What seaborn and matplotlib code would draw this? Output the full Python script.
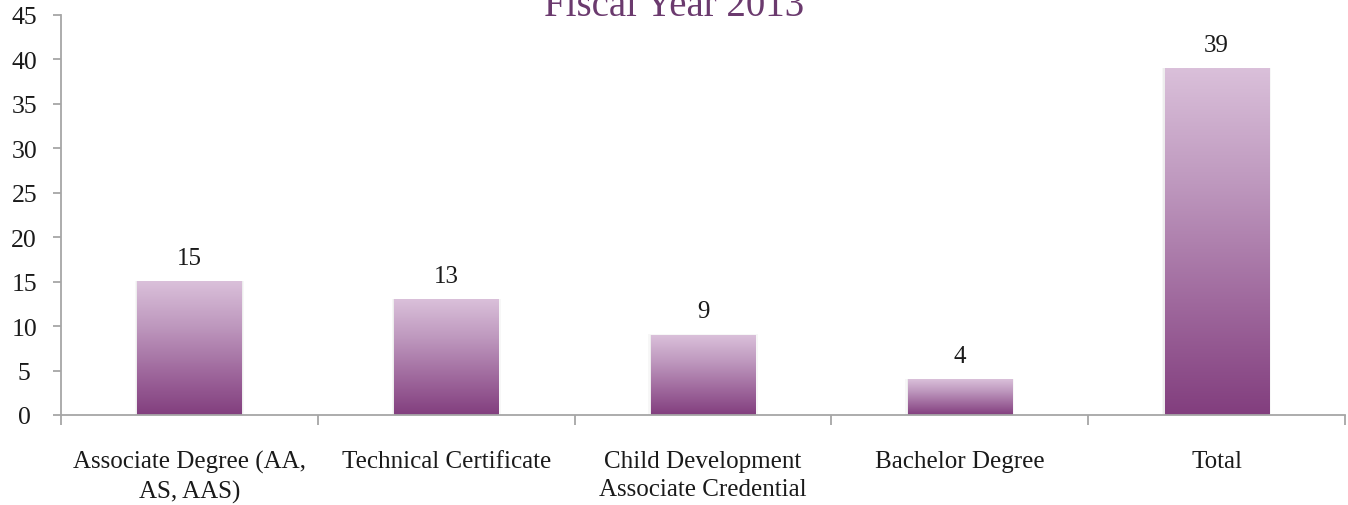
import numpy as np
import pandas as pd
import matplotlib
matplotlib.use("Agg")
import matplotlib.pyplot as plt
import seaborn as sns
from matplotlib.colors import LinearSegmentedColormap
from matplotlib.ticker import FixedLocator

categories = ["Associate Degree (AA,\nAS, AAS)", "Technical Certificate",
              "Child Development\nAssociate Credential", "Bachelor Degree", "Total"]
values = [15, 13, 9, 4, 39]
yticks = [0, 5, 10, 15, 20, 25, 30, 35, 40, 45]
title = "Fiscal Year 2013"

sns.set_theme(style="white")
plt.rcParams["font.family"] = ["Liberation Serif", "DejaVu Serif"]

fig = plt.figure(figsize=(13.48, 5.06), dpi=100)
ax = fig.add_axes([61/1348, 90/506, (1345-61)/1348, 400/506])

df = pd.DataFrame({"cat": categories, "val": values})
sns.barplot(data=df, x="cat", y="val", ax=ax, width=0.405, color="#A070A0",
            edgecolor="none", linewidth=0)

cmap = LinearSegmentedColormap.from_list("grad", ["#823E7E", "#A06A9E", "#BE98BE", "#DAC0DA"])
grad = np.linspace(0, 1, 256).reshape(-1, 1)
for p in list(ax.patches):
    x0, y0 = p.get_x(), p.get_y()
    w, h = p.get_width(), p.get_height()
    p.set_facecolor("none")
    for k, a in [(0.010, 0.06), (0.005, 0.08)]:
        sh = plt.Rectangle((x0 - k, y0), w + 2 * k, h + k * 8, color="#7a7a7a",
                           alpha=a, linewidth=0, zorder=1)
        ax.add_patch(sh)
    ax.imshow(grad, cmap=cmap, extent=[x0, x0 + w, y0, y0 + h], origin="lower",
              aspect="auto", zorder=2, interpolation="bilinear")

for i, v in enumerate(values):
    ax.annotate(str(v), (i, v), xytext=(0, 9), textcoords="offset points",
                ha="center", va="bottom", fontsize=18, color="#1a1a1a")

ax.set_xlim(-0.5, 4.5)
ax.set_ylim(0, 45)
ax.set_yticks(yticks)
ax.set_yticklabels([str(t) for t in yticks])
ax.set_xlabel("")
ax.set_ylabel("")

for s in ["top", "right"]:
    ax.spines[s].set_visible(False)
for s in ["left", "bottom"]:
    ax.spines[s].set_color("#a6a6a6")
    ax.spines[s].set_linewidth(1.3)

ax.tick_params(axis="y", which="major", direction="out", length=6, width=1.3,
               color="#a6a6a6", left=True, labelsize=18.5, labelcolor="#1a1a1a", pad=20.5)
for lab in ax.get_yticklabels():
    lab.set_horizontalalignment("center")
ax.tick_params(axis="x", which="major", length=0, labelsize=18,
               labelcolor="#1a1a1a", pad=25)
ax.xaxis.set_minor_locator(FixedLocator(np.arange(-0.5, 5.0, 1.0)))
ax.tick_params(axis="x", which="minor", direction="out", length=7, width=1.3,
               color="#a6a6a6", bottom=True)
for lab in ax.get_xticklabels():
    lab.set_linespacing(1.38)

fig.text(0.5, 1 - 16/506, title, ha="center", va="baseline", fontsize=28,
         color="#6B3A6E")

fig.savefig("out.png", dpi=100)
